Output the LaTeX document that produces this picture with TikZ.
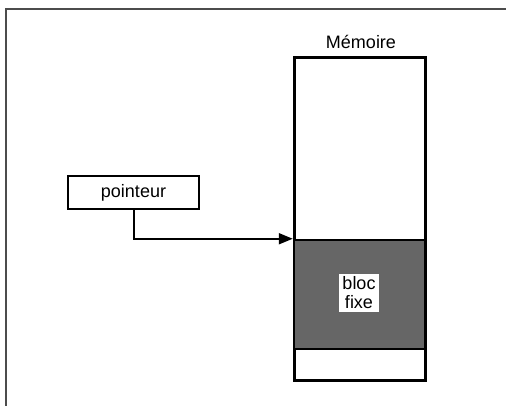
\documentclass[tikz,border=0pt]{standalone}
\usepackage{fontspec}
\setmainfont{Liberation Sans}
\usetikzlibrary{arrows.meta}

\begin{document}
\begin{tikzpicture}[x=1pt, y=-1pt, font=\fontsize{18}{19}\selectfont]
        \useasboundingbox (0,0) rectangle (506,406);
        \draw[line width=1.5pt, black!70] (6,9) rectangle (530,430);
        \node[draw, line width=3pt, minimum width=131pt, minimum height=322pt, inner sep=0pt] (memoire) at (359.5,219) {};
        \node[draw, line width=2.5pt, fill=black!60, minimum width=131pt, minimum height=109pt, inner sep=0pt] (bloc) at (359.5,294.5) {};
        \node[fill=white, align=center, inner sep=3pt] (fixe) at (359,293) {bloc\\fixe};
        \node (titre) at (361,42) {Mémoire};
        \node[draw, line width=2pt, minimum width=131pt, minimum height=33pt, inner sep=0pt] (pointeur) at (133.5,192.5) {pointeur};
        \draw[line width=2pt, -{Triangle[length=14pt, width=11pt]}] (pointeur.south) |- (bloc.north west);
    \end{tikzpicture}
\end{document}
